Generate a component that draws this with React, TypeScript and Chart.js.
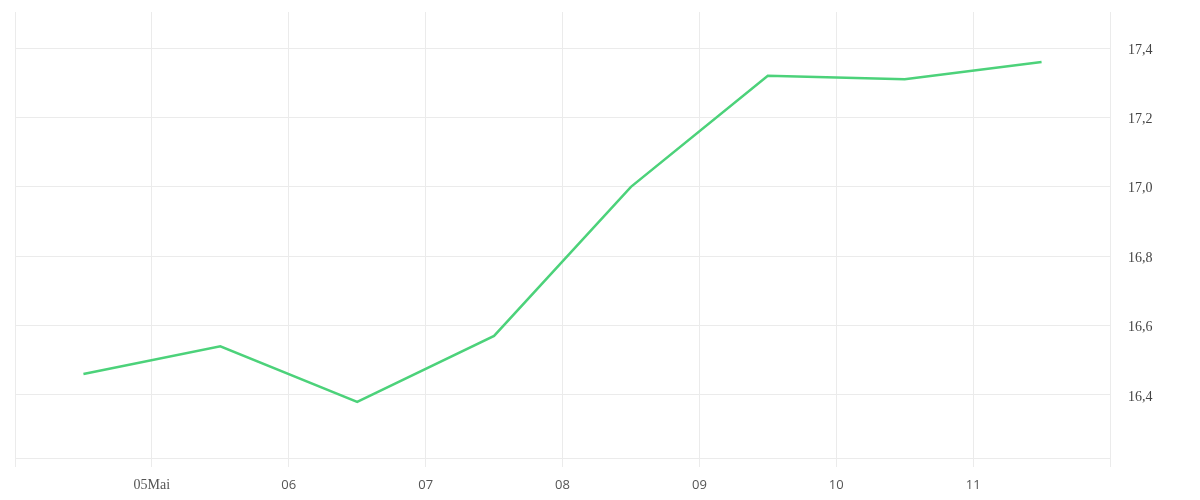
import React, { useEffect, useRef } from "react";
import { Chart, registerables } from "chart.js";

Chart.register(...registerables);

const dayLabels = ["", "05Mai", "06", "07", "08", "09", "10", "11", ""];
const pointPositions = [0.5, 1.5, 2.5, 3.5, 4.5, 5.5, 6.5, 7.5];
const seriesValues = [16.46, 16.54, 16.38, 16.57, 17.0, 17.32, 17.31, 17.36];
const yTickValues = [16.4, 16.6, 16.8, 17.0, 17.2, 17.4];

export default function App() {
  const ref = useRef<HTMLCanvasElement | null>(null);

  useEffect(() => {
    if (!ref.current) return;
    const chart = new Chart(ref.current, {
      type: "line",
      data: {
        datasets: [
          {
            data: pointPositions.map((x, i) => ({ x, y: seriesValues[i] })),
            borderColor: "rgb(76, 210, 122)",
            borderWidth: 2.5,
            pointRadius: 0,
            tension: 0,
            fill: false,
          },
        ],
      },
      options: {
        animation: false,
        responsive: true,
        maintainAspectRatio: false,
        layout: { padding: { left: 7, top: 4, right: 0, bottom: 0 } },
        plugins: { legend: { display: false }, tooltip: { enabled: false } },
        scales: {
          x: {
            type: "linear",
            min: 0,
            max: 8,
            afterBuildTicks: (scale: any) => {
              scale.ticks = dayLabels.map((_, i) => ({ value: i }));
            },
            afterFit: (scale: any) => {
              scale.height = 34;
              scale.paddingLeft = 0;
              scale.paddingRight = 0;
            },
            grid: {
              color: "#ebebeb",
              lineWidth: 1,
              drawTicks: true,
              tickLength: 9,
            },
            border: { display: true, color: "#ebebeb" },
            ticks: {
              autoSkip: false,
              maxRotation: 0,
              padding: 10,
              color: "#555",
              callback: (v: any) => dayLabels[Number(v)] ?? "",
              font: (ctx: any) =>
                ctx.tick && ctx.tick.value === 1
                  ? { family: "'Liberation Serif', serif", size: 14 }
                  : { family: "'Open Sans', sans-serif", size: 13 },
            },
          },
          y: {
            position: "right",
            min: 16.218,
            max: 17.504,
            afterBuildTicks: (scale: any) => {
              scale.ticks = yTickValues.map((v) => ({ value: v }));
            },
            afterFit: (scale: any) => {
              scale.width = 82;
              scale.paddingTop = 0;
              scale.paddingBottom = 0;
            },
            grid: { color: "#ebebeb", drawTicks: false },
            border: { display: true, color: "#ebebeb" },
            ticks: {
              padding: 18,
              labelOffset: 2,
              color: "#444",
              font: { family: "'Liberation Serif', serif", size: 14 },
              callback: (v: any) => Number(v).toFixed(1).replace(".", ","),
            },
          },
        },
      },
    });
    return () => chart.destroy();
  }, []);

  return (
    <div style={{ width: 1184, height: 484, position: "relative" }}>
      <canvas ref={ref} />
    </div>
  );
}
